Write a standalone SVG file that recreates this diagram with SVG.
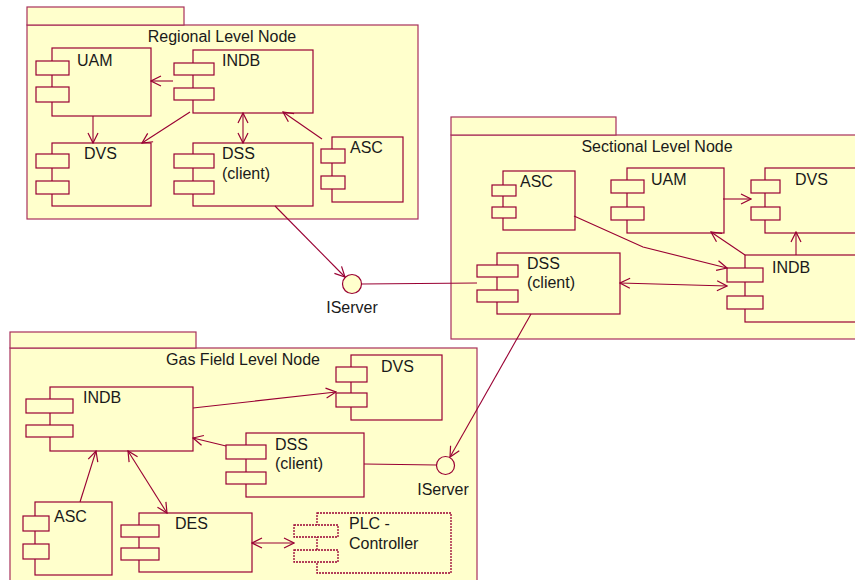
<svg xmlns="http://www.w3.org/2000/svg" width="855" height="580" viewBox="0 0 855 580">
<defs>
<style>
.pkg{fill:#ffffcc;stroke:#a8305a;stroke-width:1.2}
.sep{fill:none;stroke:#e0a0a8;stroke-width:1}
.comp{fill:#ffffcc;stroke:#990033;stroke-width:1.2}
.dot{fill:#ffffcc;stroke:#990033;stroke-width:1.3;stroke-dasharray:2 1}
.t{font-family:"Liberation Sans",Arial,sans-serif;font-size:16px;fill:#1a1a1a}
.tc{text-anchor:middle}
.c{fill:none;stroke:#990033;stroke-width:1.1}
.if{fill:#ffffcc;stroke:#990033;stroke-width:1.2}
</style>
<marker id="a" viewBox="0 0 12 12" refX="11" refY="6" markerWidth="12" markerHeight="12" markerUnits="userSpaceOnUse" orient="auto-start-reverse">
<path d="M1,1 L11,6 L1,11" fill="none" stroke="#990033" stroke-width="1.2"/>
</marker>
</defs>

<g id="pkg-regional">
<rect class="pkg" x="27" y="25" width="391" height="194"/>
<rect class="pkg" x="27" y="7" width="157" height="18"/>
<text class="t tc" x="222" y="42">Regional Level Node</text>
</g>
<g id="pkg-sectional">
<rect class="pkg" x="451" y="135" width="412" height="204"/>
<rect class="pkg" x="451" y="117" width="165" height="18"/>
<text class="t tc" x="657" y="152">Sectional Level Node</text>
</g>
<g id="pkg-gasfield">
<rect class="pkg" x="10" y="348" width="467" height="240"/>
<rect class="pkg" x="10" y="332" width="186" height="16"/>
<text class="t tc" x="243" y="365">Gas Field Level Node</text>
</g>

<g id="r-uam">
<rect class="comp" x="52" y="48" width="99" height="68"/>
<rect class="comp" x="36" y="61" width="33" height="14"/>
<rect class="comp" x="36" y="87" width="33" height="15"/>
<text class="t" x="77" y="66">UAM</text>
</g>
<g id="r-indb">
<rect class="comp" x="193" y="50" width="120" height="63"/>
<rect class="comp" x="174" y="63" width="40" height="12"/>
<rect class="comp" x="174" y="88" width="40" height="12"/>
<text class="t" x="222" y="66">INDB</text>
</g>
<g id="r-dvs">
<rect class="comp" x="52" y="143" width="99" height="63"/>
<rect class="comp" x="36" y="154" width="33" height="14"/>
<rect class="comp" x="36" y="181" width="33" height="13"/>
<text class="t" x="84" y="159">DVS</text>
</g>
<g id="r-dss">
<rect class="comp" x="193" y="143" width="120" height="63"/>
<rect class="comp" x="174" y="154" width="40" height="14"/>
<rect class="comp" x="174" y="181" width="40" height="13"/>
<text class="t" x="222" y="159">DSS</text>
<text class="t" x="222" y="179">(client)</text>
</g>
<g id="r-asc">
<rect class="comp" x="332" y="137" width="71" height="65"/>
<rect class="comp" x="321" y="149" width="24" height="14"/>
<rect class="comp" x="321" y="176" width="24" height="13"/>
<text class="t" x="350" y="153">ASC</text>
</g>

<g id="iserver-top">
<circle class="if" cx="352" cy="284" r="9.5"/>
<text class="t tc" x="352" y="313">IServer</text>
</g>

<g id="s-asc">
<rect class="comp" x="503" y="171" width="72" height="59"/>
<rect class="comp" x="492" y="185" width="24" height="11"/>
<rect class="comp" x="492" y="207" width="24" height="11"/>
<text class="t" x="520" y="187">ASC</text>
</g>
<g id="s-uam">
<rect class="comp" x="627" y="168" width="97" height="65"/>
<rect class="comp" x="611" y="180" width="33" height="13"/>
<rect class="comp" x="611" y="207" width="33" height="13"/>
<text class="t" x="651" y="185">UAM</text>
</g>
<g id="s-dvs">
<rect class="comp" x="765" y="168" width="100" height="65"/>
<rect class="comp" x="751" y="180" width="29" height="13"/>
<rect class="comp" x="751" y="207" width="29" height="13"/>
<text class="t" x="795" y="185">DVS</text>
</g>
<g id="s-dss">
<rect class="comp" x="497" y="253" width="123" height="61"/>
<rect class="comp" x="477" y="265" width="41" height="12"/>
<rect class="comp" x="477" y="290" width="41" height="12"/>
<text class="t" x="527" y="269">DSS</text>
<text class="t" x="527" y="288">(client)</text>
</g>
<g id="s-indb">
<rect class="comp" x="745" y="255" width="120" height="67"/>
<rect class="comp" x="727" y="268" width="36" height="14"/>
<rect class="comp" x="727" y="296" width="36" height="13"/>
<text class="t" x="772" y="273">INDB</text>
</g>

<g id="g-dvs">
<rect class="comp" x="351" y="355" width="91" height="65"/>
<rect class="comp" x="336" y="367" width="31" height="15"/>
<rect class="comp" x="336" y="393" width="31" height="14"/>
<text class="t" x="381" y="372">DVS</text>
</g>
<g id="g-indb">
<rect class="comp" x="50" y="387" width="143" height="64"/>
<rect class="comp" x="26" y="399" width="47" height="14"/>
<rect class="comp" x="26" y="425" width="47" height="12"/>
<text class="t" x="83" y="403">INDB</text>
</g>
<g id="g-dss">
<rect class="comp" x="246" y="433" width="118" height="64"/>
<rect class="comp" x="226" y="445" width="40" height="14"/>
<rect class="comp" x="226" y="472" width="40" height="12"/>
<text class="t" x="275" y="450">DSS</text>
<text class="t" x="275" y="469">(client)</text>
</g>
<g id="g-asc">
<rect class="comp" x="35" y="502" width="77" height="73"/>
<rect class="comp" x="23" y="516" width="26" height="15"/>
<rect class="comp" x="23" y="544" width="26" height="15"/>
<text class="t" x="54" y="522">ASC</text>
</g>
<g id="g-des">
<rect class="comp" x="139" y="513" width="113" height="59"/>
<rect class="comp" x="121" y="525" width="38" height="12"/>
<rect class="comp" x="121" y="548" width="38" height="12"/>
<text class="t" x="175" y="529">DES</text>
</g>
<g id="g-plc">
<rect class="dot" x="317" y="513" width="134" height="60"/>
<rect class="dot" x="294" y="525" width="44" height="12"/>
<rect class="dot" x="294" y="550" width="44" height="12"/>
<text class="t" x="349" y="529">PLC -</text>
<text class="t" x="349" y="549">Controller</text>
</g>
<g id="iserver-bottom">
<circle class="if" cx="445.5" cy="465.5" r="9"/>
<text class="t tc" x="443" y="495">IServer</text>
</g>

<g id="connectors">
<path class="c" d="M173,81 L151,81" marker-end="url(#a)"/>
<path class="c" d="M93,116 L93,143" marker-end="url(#a)"/>
<path class="c" d="M190,112 L142,143" marker-end="url(#a)"/>
<path class="c" d="M243,113 L243,143" marker-start="url(#a)" marker-end="url(#a)"/>
<path class="c" d="M322,139 L283,112" marker-end="url(#a)"/>
<path class="c" d="M275,206 L345,277" marker-end="url(#a)"/>
<path class="c" d="M361.5,284 L477,283"/>
<path class="c" d="M723,199 L751,199" marker-end="url(#a)"/>
<path class="c" d="M796,255 L796,232" marker-end="url(#a)"/>
<path class="c" d="M745,255 L711,232" marker-end="url(#a)"/>
<path class="c" d="M574,216 L643,247 L727,268" marker-end="url(#a)"/>
<path class="c" d="M620,283 L727,286" marker-start="url(#a)" marker-end="url(#a)"/>
<path class="c" d="M531,314 L450,457" marker-end="url(#a)"/>
<path class="c" d="M193,408 L336,392" marker-end="url(#a)"/>
<path class="c" d="M226,446 L193,438" marker-end="url(#a)"/>
<path class="c" d="M364,464 L436.5,465"/>
<path class="c" d="M80,502 L96,451" marker-end="url(#a)"/>
<path class="c" d="M128,451 L167,513" marker-start="url(#a)" marker-end="url(#a)"/>
<path class="c" d="M252,543 L294,543" marker-start="url(#a)" marker-end="url(#a)"/>
</g>
</svg>
